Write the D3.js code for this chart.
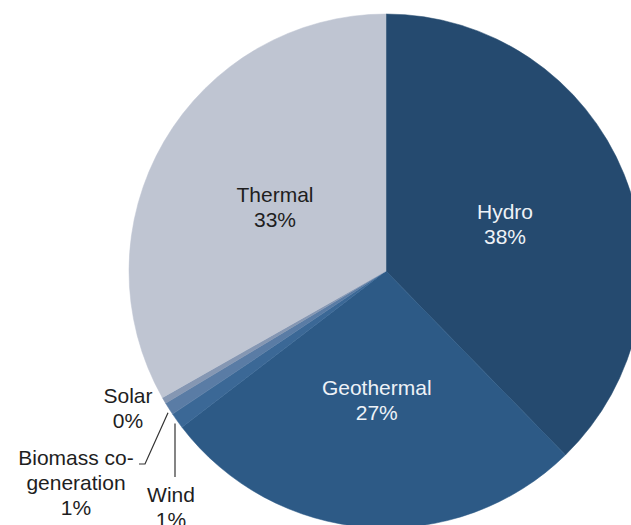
<!DOCTYPE html>
<html><head><meta charset="utf-8">
<script src="https://cdn.jsdelivr.net/npm/d3@7"></script>
<style>html,body{margin:0;padding:0;background:#fff;overflow:hidden}</style>
</head><body>
<svg id="chart" width="631" height="525"></svg>
<script>
const categories = ["Hydro", "Geothermal", "Wind", "Biomass co-generation", "Solar", "Thermal"];
const values = [37.7, 26.9, 1.0, 0.8, 0.4, 33.2];
const percentLabels = ["38%", "27%", "1%", "1%", "0%", "33%"];
const colors = ["#254a6f", "#2d5a86", "#3b6896", "#5a7ca5", "#8597b3", "#bfc5d2"];

const W = 631, H = 525;
const cx = 386, cy = 271, R = 257;
const font = "'Liberation Sans', Arial, sans-serif";

const svg = d3.select("#chart");
const g = svg.append("g").attr("transform", `translate(${cx},${cy})`);

const pie = d3.pie().sort(null).value(d => d.v).startAngle(0).endAngle(2 * Math.PI);
const data = categories.map((c, i) => ({ c, v: values[i], p: percentLabels[i], col: colors[i] }));
const arcs = pie(data);
const arc = d3.arc().innerRadius(0).outerRadius(R);

g.selectAll("path.slice").data(arcs).join("path")
  .attr("class", "slice")
  .attr("d", arc)
  .attr("fill", d => d.data.col)
  .attr("stroke", d => d.data.col)
  .attr("stroke-width", 0.5);

// inside labels
const inside = ["Hydro", "Geothermal", "Thermal"];
arcs.filter(d => inside.includes(d.data.c)).forEach(d => {
  const [x, y] = arc.centroid(d);
  const fill = d.data.c === "Thermal" ? "#1e1e1e" : "#eef2f7";
  const t = g.append("text").attr("text-anchor", "middle")
    .attr("font-family", font).attr("font-size", 21).attr("fill", fill);
  t.append("tspan").attr("x", x).attr("y", y - 4).text(d.data.c);
  t.append("tspan").attr("x", x).attr("y", y + 21).text(d.data.p);
});

// outside labels
const edge = d3.arc().innerRadius(R).outerRadius(R);
function edgePoint(d, frac) {
  const a = d.startAngle + (d.endAngle - d.startAngle) * frac;
  return [Math.sin(a) * R, -Math.cos(a) * R];
}
const byName = Object.fromEntries(arcs.map(d => [d.data.c, d]));

// Solar label (no leader)
const solarT = g.append("text").attr("text-anchor", "middle")
  .attr("font-family", font).attr("font-size", 21).attr("fill", "#1e1e1e");
solarT.append("tspan").attr("x", 128 - cx).attr("y", 403 - cy).text("Solar");
solarT.append("tspan").attr("x", 128 - cx).attr("y", 428 - cy).text(byName["Solar"].data.p);

// Biomass label with leader
const bio = byName["Biomass co-generation"];
const bp = edgePoint(bio, 0.5);
g.append("path")
  .attr("d", d3.line()([[bp[0] - 1, bp[1] + 4], [145 - cx, 464 - cy], [139 - cx, 464 - cy]]))
  .attr("fill", "none").attr("stroke", "#333").attr("stroke-width", 1.2);
const bioT = g.append("text").attr("text-anchor", "middle")
  .attr("font-family", font).attr("font-size", 21).attr("fill", "#1e1e1e");
bioT.append("tspan").attr("x", 76 - cx).attr("y", 465 - cy).text("Biomass co-");
bioT.append("tspan").attr("x", 76 - cx).attr("y", 490 - cy).text("generation");
bioT.append("tspan").attr("x", 76 - cx).attr("y", 515 - cy).text(bio.data.p);

// Wind label with leader
const wind = byName["Wind"];
const wp = edgePoint(wind, 0.6);
g.append("path")
  .attr("d", d3.line()([[175 - cx, wp[1] + 4], [175 - cx, 477 - cy]]))
  .attr("fill", "none").attr("stroke", "#333").attr("stroke-width", 1.2);
const windT = g.append("text").attr("text-anchor", "middle")
  .attr("font-family", font).attr("font-size", 21).attr("fill", "#1e1e1e");
windT.append("tspan").attr("x", 171 - cx).attr("y", 502 - cy).text("Wind");
windT.append("tspan").attr("x", 171 - cx).attr("y", 527 - cy).text(wind.data.p);
</script>
</body></html>
